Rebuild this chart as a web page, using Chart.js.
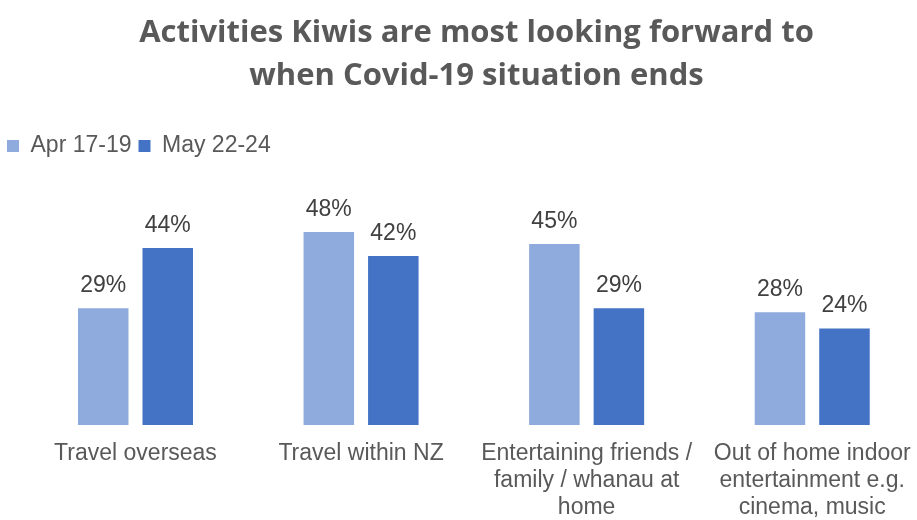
<!DOCTYPE html>
<html lang="en">
<head>
  <meta charset="UTF-8" />
  <title>Activities Kiwis are most looking forward to when Covid-19 situation ends</title>
  <script src="https://cdn.jsdelivr.net/npm/chart.js"></script>
  <style>
    body {
      margin: 0;
      background: #fff;
      overflow: hidden;
    }
    canvas {
      display: block;
    }
  </style>
</head>
<body>
  <canvas id="activityChart" width="953" height="520"></canvas>

  <script>
    const titleLines = ['Activities Kiwis are most looking forward to', 'when Covid-19 situation ends'];
    const categories = [
      ['Travel overseas'],
      ['Travel within NZ'],
      ['Entertaining friends /', 'family / whanau at', 'home'],
      ['Out of home indoor', 'entertainment e.g.', 'cinema, music']
    ];
    const seriesNames = ['Apr 17-19', 'May 22-24'];
    const aprValues = [29, 48, 45, 28];
    const mayValues = [44, 42, 29, 24];

    Chart.defaults.font.family = "'Liberation Sans', Arial, sans-serif";

    // percentage written above each bar
    const valueLabels = {
      id: 'valueLabels',
      afterDatasetsDraw(chart) {
        const ctx = chart.ctx;
        ctx.save();
        ctx.font = "23px 'Liberation Sans', Arial, sans-serif";
        ctx.fillStyle = '#404040';
        ctx.textAlign = 'center';
        ctx.textBaseline = 'alphabetic';
        chart.data.datasets.forEach((ds, i) => {
          chart.getDatasetMeta(i).data.forEach((bar, j) => {
            ctx.fillText(ds.data[j] + '%', bar.x, bar.y - 16);
          });
        });
        ctx.restore();
      }
    };

    const hiddenAxis = {
      display: true,
      grid: { display: false },
      border: { display: false },
      ticks: { display: false }
    };

    new Chart(document.getElementById('activityChart'), {
      type: 'bar',
      data: {
        labels: categories,
        datasets: [
          {
            label: seriesNames[0],
            data: aprValues,
            backgroundColor: '#8FAADC',
            categoryPercentage: 0.572,
            barPercentage: 0.783
          },
          {
            label: seriesNames[1],
            data: mayValues,
            backgroundColor: '#4472C4',
            categoryPercentage: 0.572,
            barPercentage: 0.783
          }
        ]
      },
      options: {
        responsive: false,
        animation: false,
        layout: { padding: 0 },
        plugins: {
          title: {
            display: true,
            text: titleLines,
            color: '#595959',
            font: { family: "'Open Sans', sans-serif", size: 31, weight: 'bold', lineHeight: 1.38 },
            padding: { top: 12, bottom: 30 }
          },
          legend: {
            align: 'start',
            labels: {
              boxWidth: 12,
              boxHeight: 12,
              padding: 7,
              color: '#595959',
              font: { size: 23 }
            }
          },
          tooltip: { enabled: false }
        },
        scales: {
          x: {
            grid: { display: false },
            border: { display: false },
            ticks: {
              color: '#595959',
              font: { size: 23, lineHeight: 1.17 },
              padding: 7,
              maxRotation: 0,
              autoSkip: false
            },
            afterFit: s => { s.height = 95; }
          },
          y: {
            ...hiddenAxis,
            min: 0,
            max: 64,
            afterFit: s => { s.width = 22.7; }
          },
          // empty strip on the right so the title centres over the plot
          spacer: {
            ...hiddenAxis,
            type: 'linear',
            position: 'right',
            afterFit: s => { s.width = 28; }
          }
        }
      },
      plugins: [valueLabels]
    });
  </script>
</body>
</html>
